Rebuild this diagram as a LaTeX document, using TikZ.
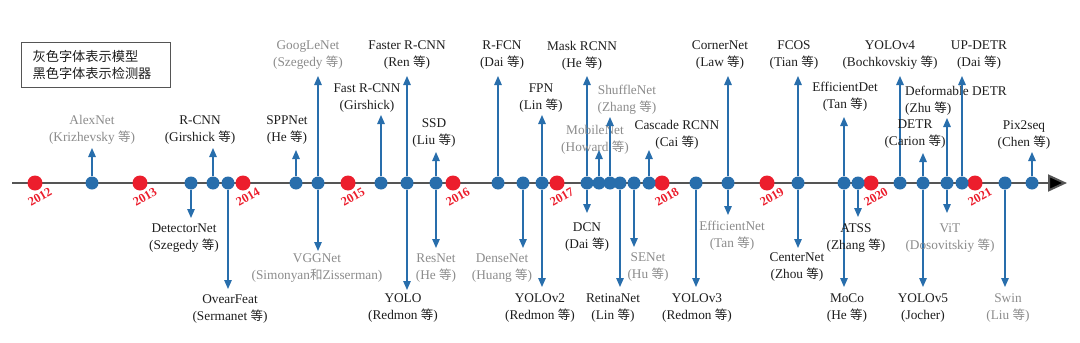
\documentclass[tikz,border=0pt]{standalone}
\usepackage{fontspec}
\setmainfont{Liberation Serif}
\newfontfamily\cjk{Noto Sans CJK SC}
\usetikzlibrary{arrows.meta}
\definecolor{dotblue}{RGB}{40,110,172}
\definecolor{dotred}{RGB}{236,30,45}
\definecolor{graytxt}{RGB}{140,140,140}
\definecolor{blacktxt}{RGB}{30,30,30}
\definecolor{axisgray}{RGB}{85,85,85}
\newcommand\deng{{\cjk\fontsize{12.5}{17}\selectfont 等}}
\tikzset{
  bdot/.style={circle,fill=dotblue,inner sep=0pt,minimum size=13pt},
  rdot/.style={circle,fill=dotred,inner sep=0pt,minimum size=15pt},
  stem/.style={draw=dotblue,line width=1.3pt,-{Triangle[width=7.5pt,length=9pt]}},
  labbase/.style={align=center,inner sep=0pt,font=\fontsize{13.3}{17}\selectfont},
  gtxt/.style={labbase,text=graytxt},
  btxt/.style={labbase,text=blacktxt},
  yearlab/.style={text=dotred,rotate=30,inner sep=0pt,font=\fontsize{12.5}{14}\selectfont\bfseries},
}
\newcommand\ev[7]{%
  \coordinate (t#1) at (#2,-#3);
  \draw[stem] (d#2) -- (t#1);
  \node[#6] (l#1) at (#4,-#5) {#7};}
\begin{document}
\begin{tikzpicture}[x=1pt,y=1pt]
\useasboundingbox (0,0) rectangle (1080,-343);
\fill[white] (0,0) rectangle (1080,-343);
% legend
\node[draw=axisgray,line width=1.2pt,anchor=north west,minimum width=149pt,minimum height=45pt,
      align=left,text width=127pt,inner xsep=11pt,inner ysep=0pt,
      font=\cjk\fontsize{13.2}{17}\selectfont,text=blacktxt] (legend) at (21,-42)
  {灰色字体表示模型\\黑色字体表示检测器};
% axis
\coordinate (axstart) at (12,-183);
\coordinate (axend) at (1067,-183);
\draw[axisgray,line width=2pt,-{Triangle[width=17pt,length=19pt,fill=black]}] (axstart) -- (axend);
% year dots
\foreach \x/\y in {35/2012,140/2013,243/2014,348/2015,453/2016,557/2017,662/2018,767/2019,871/2020,975/2021}{
  \node[rdot] (y\y) at (\x,-183) {};
  \node[yearlab] (yl\y) at (\x+5,-197) {\y};
}
% event dots
\foreach \x in {92,191,213,228,296,318,381,407,436,498,523,542,587,599,610,620,634,649,696,728,798,844,858,900,923,947,962,1005,1032}{
  \node[bdot] (d\x) at (\x,-183) {};
}
% up events
\ev{alex}{92}{148}{92}{130}{gtxt}{AlexNet\\(Krizhevsky \deng)}
\ev{rcnn}{213}{148}{200}{130}{btxt}{R-CNN\\(Girshick \deng)}
\ev{spp}{296}{150}{287}{130}{btxt}{SPPNet\\(He \deng)}
\ev{goog}{318}{76}{308}{55.5}{gtxt}{GoogLeNet\\(Szegedy \deng)}
\ev{fast}{381}{115}{367}{98.5}{btxt}{Fast R-CNN\\(Girshick)}
\ev{faster}{407}{76}{407}{55.5}{btxt}{Faster R-CNN\\(Ren \deng)}
\ev{ssd}{436}{152}{434}{133}{btxt}{SSD\\(Liu \deng)}
\ev{rfcn}{498}{76}{502}{55.5}{btxt}{R-FCN\\(Dai \deng)}
\ev{fpn}{542}{115}{541}{98.5}{btxt}{FPN\\(Lin \deng)}
\ev{mask}{587}{76}{582}{55.5}{btxt}{Mask RCNN\\(He \deng)}
\ev{mobile}{599}{150}{595}{139.5}{gtxt}{MobileNet\\(Howard \deng)}
\ev{shuffle}{610}{117}{627}{99.5}{gtxt}{ShuffleNet\\(Zhang \deng)}
\ev{cascade}{649}{150}{677}{135}{btxt}{Cascade RCNN\\(Cai \deng)}
\ev{corner}{728}{76}{720}{55.5}{btxt}{CornerNet\\(Law \deng)}
\ev{fcos}{798}{76}{794}{55.5}{btxt}{FCOS\\(Tian \deng)}
\ev{effdet}{844}{117}{845}{97}{btxt}{EfficientDet\\(Tan \deng)}
\ev{yolofour}{900}{76}{890}{55.5}{btxt}{YOLOv4\\(Bochkovskiy \deng)}
\ev{detr}{923}{153}{915}{134.5}{btxt}{DETR\\(Carion \deng)}
\coordinate (tdefdetr) at (947,-118);
\draw[stem] (d947) -- (tdefdetr);
\node[btxt,align=left,anchor=west] (ldefdetr) at (905,-101) {Deformable DETR\\(Zhu \deng)};
\ev{updetr}{962}{76}{979}{55.5}{btxt}{UP-DETR\\(Dai \deng)}
\ev{pix}{1032}{152}{1024}{135}{btxt}{Pix2seq\\(Chen \deng)}
% down events
\ev{detector}{191}{218}{184}{238.5}{btxt}{DetectorNet\\(Szegedy \deng)}
\ev{overfeat}{228}{289}{230}{309.5}{btxt}{OvearFeat\\(Sermanet \deng)}
\ev{vgg}{318}{251}{317}{268.5}{gtxt}{VGGNet\\(Simonyan{\cjk\fontsize{12.5}{17}\selectfont 和}Zisserman)}
\ev{yolo}{407}{290}{403}{308.5}{btxt}{YOLO\\(Redmon \deng)}
\ev{res}{436}{248}{436}{268.5}{gtxt}{ResNet\\(He \deng)}
\ev{dense}{523}{248}{502}{268.5}{gtxt}{DenseNet\\(Huang \deng)}
\ev{yolotwo}{542}{287}{540}{308.5}{btxt}{YOLOv2\\(Redmon \deng)}
\ev{dcn}{587}{213}{587}{237}{btxt}{DCN\\(Dai \deng)}
\ev{retina}{620}{287}{613}{308.5}{btxt}{RetinaNet\\(Lin \deng)}
\ev{se}{634}{247}{648}{267}{gtxt}{SENet\\(Hu \deng)}
\ev{yolothree}{696}{287}{697}{308.5}{btxt}{YOLOv3\\(Redmon \deng)}
\ev{effnet}{728}{215}{732}{236}{gtxt}{EfficientNet\\(Tan \deng)}
\ev{center}{798}{248}{797}{267.5}{btxt}{CenterNet\\(Zhou \deng)}
\ev{moco}{844}{287}{847}{308.5}{btxt}{MoCo\\(He \deng)}
\ev{atss}{858}{217}{856}{238.5}{btxt}{ATSS\\(Zhang \deng)}
\ev{yolofive}{923}{287}{923}{308.5}{btxt}{YOLOv5\\(Jocher)}
\ev{vit}{947}{213}{950}{238.5}{gtxt}{ViT\\(Dosovitskiy \deng)}
\ev{swin}{1005}{287}{1008}{308.5}{gtxt}{Swin\\(Liu \deng)}
\end{tikzpicture}
\end{document}
